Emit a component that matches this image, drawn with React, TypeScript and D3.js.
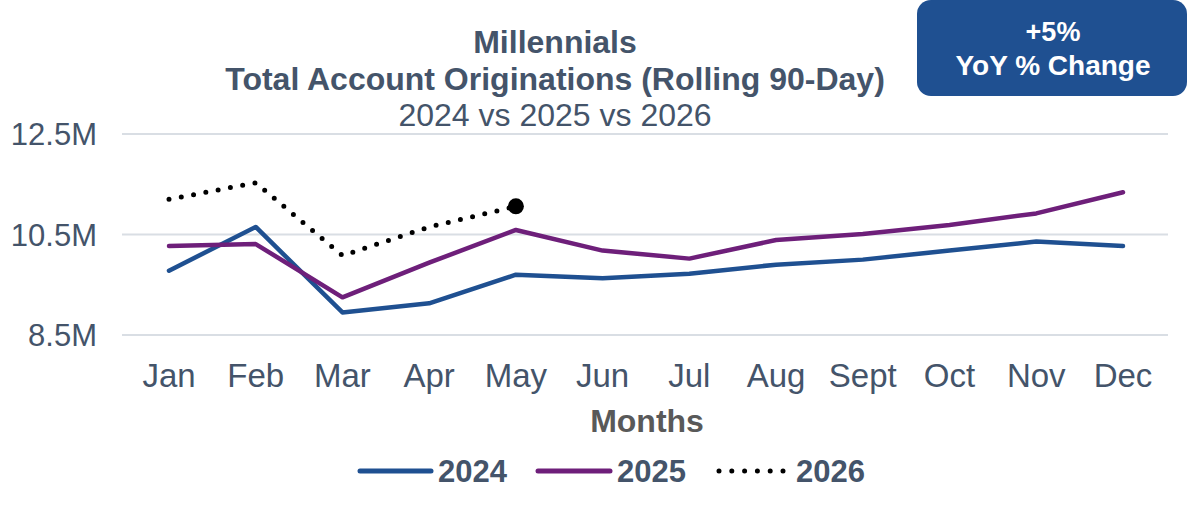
import React from "react";
import * as d3 from "d3";

const months = ["Jan", "Feb", "Mar", "Apr", "May", "Jun", "Jul", "Aug", "Sept", "Oct", "Nov", "Dec"];
const values2024 = [9.78, 10.65, 8.95, 9.13, 9.7, 9.63, 9.72, 9.9, 10.0, 10.18, 10.36, 10.27];
const values2025 = [10.27, 10.31, 9.25, 9.94, 10.59, 10.18, 10.02, 10.39, 10.51, 10.69, 10.92, 11.34];
const values2026 = [11.2, 11.53, 10.08, 10.65, 11.06];
const yTicks = [8.5, 10.5, 12.5];
const titleLines = ["Millennials", "Total Account Originations (Rolling 90-Day)", "2024 vs 2025 vs 2026"];
const badgeLines = ["+5%", "YoY % Change"];

const BLUE = "#1F5091";
const PURPLE = "#6E1F7A";
const TEXT = "#44546A";
const FONT = "'Liberation Sans', Arial, sans-serif";

export default function App() {
  const W = 1193, H = 529;
  const x = d3.scalePoint<string>().domain(months).range([169, 1123]);
  const y = d3.scaleLinear().domain([8.5, 12.5]).range([335, 134]);
  const line = d3
    .line<number>()
    .x((_, i) => x(months[i]) as number)
    .y((d) => y(d));

  const last2026 = values2026.length - 1;

  return (
    <svg width={W} height={H} style={{ position: "absolute", left: 0, top: 0, fontFamily: FONT }}>
      <rect width={W} height={H} fill="#fff" />
      {/* gridlines */}
      {yTicks.map((t) => (
        <line key={t} x1={122} x2={1168} y1={y(t)} y2={y(t)} stroke="#D9DEE4" strokeWidth={2} />
      ))}
      {yTicks.map((t) => (
        <text key={"l" + t} x={97} y={y(t)} dy="0.36em" textAnchor="end" fontSize={31} fill={TEXT}>
          {t.toFixed(1)}M
        </text>
      ))}
      {/* title */}
      <text x={555} y={53} textAnchor="middle" fontSize={32} fontWeight="bold" fill={TEXT}>{titleLines[0]}</text>
      <text x={555} y={90} textAnchor="middle" fontSize={32} fontWeight="bold" fill={TEXT}>{titleLines[1]}</text>
      <text x={555} y={126} textAnchor="middle" fontSize={32} fill={TEXT}>{titleLines[2]}</text>
      {/* badge */}
      <rect x={917} y={0} width={270} height={96} rx={14} fill={BLUE} />
      <text x={1053} y={41} textAnchor="middle" fontSize={27} fontWeight="bold" fill="#fff">{badgeLines[0]}</text>
      <text x={1053} y={75} textAnchor="middle" fontSize={28} fontWeight="bold" fill="#fff">{badgeLines[1]}</text>
      {/* lines */}
      <path d={line(values2024) || ""} fill="none" stroke={BLUE} strokeWidth={4.5} strokeLinejoin="round" strokeLinecap="round" />
      <path d={line(values2025) || ""} fill="none" stroke={PURPLE} strokeWidth={4.5} strokeLinejoin="round" strokeLinecap="round" />
      <path d={line(values2026) || ""} fill="none" stroke="#000" strokeWidth={5} strokeDasharray="0 12.5" strokeLinecap="round" />
      <circle cx={x(months[last2026]) as number} cy={y(values2026[last2026])} r={8} fill="#000" />
      {/* x ticks */}
      {months.map((m) => (
        <text key={m} x={x(m) as number} y={387} textAnchor="middle" fontSize={33} fill={TEXT}>{m}</text>
      ))}
      <text x={647} y={432} textAnchor="middle" fontSize={32} fontWeight="bold" fill="#595959">Months</text>
      {/* legend */}
      <line x1={360} x2={431} y1={471} y2={471} stroke={BLUE} strokeWidth={5} strokeLinecap="round" />
      <text x={438} y={482} fontSize={31} fontWeight="bold" fill={TEXT}>2024</text>
      <line x1={538} x2={610} y1={471} y2={471} stroke={PURPLE} strokeWidth={5} strokeLinecap="round" />
      <text x={617} y={482} fontSize={31} fontWeight="bold" fill={TEXT}>2025</text>
      <line x1={719} x2={783} y1={471} y2={471} stroke="#000" strokeWidth={5} strokeDasharray="0 12.8" strokeLinecap="round" />
      <text x={796} y={482} fontSize={31} fontWeight="bold" fill={TEXT}>2026</text>
    </svg>
  );
}
